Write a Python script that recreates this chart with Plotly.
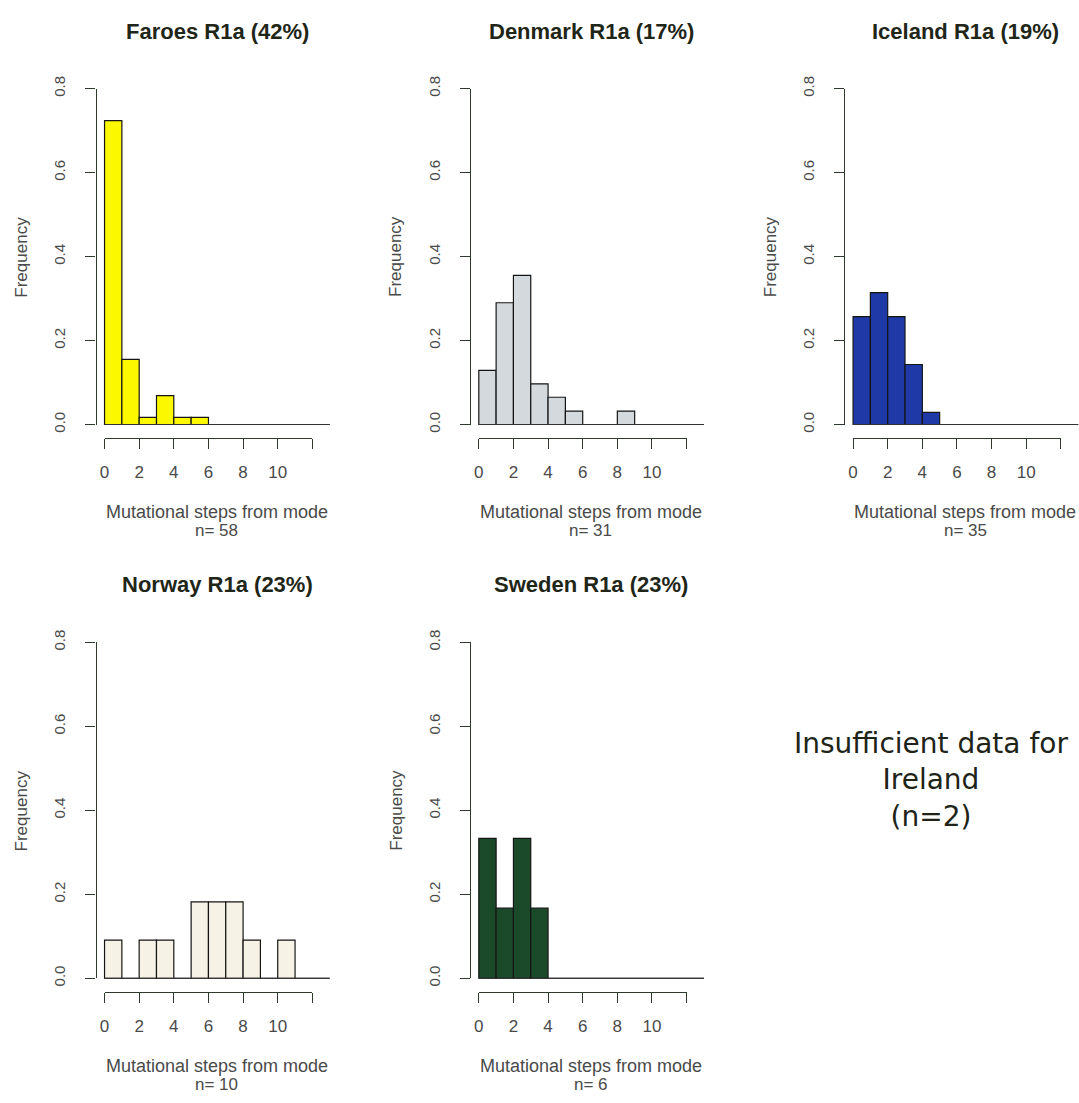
import plotly.graph_objects as go

# Bin edges (mutational steps from mode), one-step bins from 0 to 13
bin_edges = list(range(0, 14))

# Relative frequency per bin for each population
faroes_freq = [0.724, 0.155, 0.017, 0.069, 0.017, 0.017, 0, 0, 0, 0, 0, 0, 0]
denmark_freq = [0.129, 0.290, 0.355, 0.097, 0.065, 0.032, 0, 0, 0.032, 0, 0, 0, 0]
iceland_freq = [0.257, 0.314, 0.257, 0.143, 0.029, 0, 0, 0, 0, 0, 0, 0, 0]
norway_freq = [0.091, 0, 0.091, 0.091, 0, 0.182, 0.182, 0.182, 0.091, 0, 0.091, 0, 0]
sweden_freq = [0.333, 0.167, 0.333, 0.167, 0, 0, 0, 0, 0, 0, 0, 0, 0]

titles = ["Faroes R1a (42%)", "Denmark R1a (17%)", "Iceland R1a (19%)",
          "Norway R1a (23%)", "Sweden R1a (23%)"]
sample_sizes = [58, 31, 35, 10, 6]
series = [faroes_freq, denmark_freq, iceland_freq, norway_freq, sweden_freq]
fill_colors = ["#fbf800", "#d4d9dd", "#1f3aa6", "#f6f2e6", "#1b4a2b"]

x_ticks = [0, 2, 4, 6, 8, 10, 12]
x_tick_text = ["0", "2", "4", "6", "8", "10", ""]
y_ticks = [0.0, 0.2, 0.4, 0.6, 0.8]
y_tick_text = ["0.0", "0.2", "0.4", "0.6", "0.8"]

ireland_note = "Insufficient data for<br>Ireland<br>(n=2)"

# ---- page layout (pixels) ----
W, H = 1079, 1103
col_x0 = [100, 476, 852]          # pixel where step 0 sits in each column
row_base = [419.5, 984.0]         # pixel where frequency 0 sits in each row
UX = 17.4                         # pixels per step
UY = 428.0                        # pixels per unit of frequency
PAD_X = 0.52                      # 4% extension of the step range
PAD_Y = 0.032                     # 4% extension of the frequency range

AXIS_COL = "#2e3a2e"
TEXT_COL = "#1f2618"
LABEL_COL = "#4a4a4a"
FONT = "Liberation Sans, Arial, sans-serif"


def fx(px):
    return min(max(px / W, 0.0), 1.0)


def fy(py):
    return min(max(1 - py / H, 0.0), 1.0)


fig = go.Figure()
layout = dict(
    width=W, height=H,
    margin=dict(l=0, r=0, t=0, b=0),
    paper_bgcolor="white",
    plot_bgcolor="rgba(0,0,0,0)",
    showlegend=False,
    annotations=[],
)


def key(kind, n):
    return kind if n == 1 else f"{kind}{n}"


def ref(kind, n):
    return kind if n == 1 else f"{kind}{n}"


for i, (freq, title, n_obs, color) in enumerate(zip(series, titles, sample_sizes, fill_colors)):
    row, col = divmod(i, 3)
    x0 = col_x0[col]
    base = row_base[row]
    a = 2 * i + 1   # axes carrying the bars
    b = 2 * i + 2   # detached axes with ticks and labels

    # plot region for the bars
    left_px = x0 - PAD_X * UX
    right_px = min(x0 + (bin_edges[-1] + PAD_X) * UX, W)
    top_px = base - (0.8 + PAD_Y) * UY
    bot_px = base + PAD_Y * UY

    layout[key("xaxis", a)] = dict(
        domain=[fx(left_px), fx(right_px)],
        range=[(left_px - x0) / UX, (right_px - x0) / UX],
        anchor=ref("y", a), visible=False, fixedrange=True,
    )
    layout[key("yaxis", a)] = dict(
        domain=[fy(bot_px), fy(top_px)],
        range=[-PAD_Y, 0.8 + PAD_Y],
        anchor=ref("x", a), visible=False, fixedrange=True,
    )

    centers = [(bin_edges[k] + bin_edges[k + 1]) / 2 for k in range(len(freq))]
    fig.add_trace(go.Scatter(
        x=[bin_edges[0], bin_edges[-1]], y=[0, 0], mode="lines",
        line=dict(color="#333333", width=1),
        xaxis=ref("x", a), yaxis=ref("y", a), hoverinfo="skip",
    ))
    fig.add_trace(go.Bar(
        x=centers, y=freq, width=1,
        marker=dict(color=color, line=dict(color="#151515", width=1.2)),
        xaxis=ref("x", a), yaxis=ref("y", a),
    ))

    # detached R-style axes
    layout[key("xaxis", b)] = dict(
        domain=[fx(x0), fx(x0 + x_ticks[-1] * UX)],
        range=[x_ticks[0], x_ticks[-1]],
        anchor="free", position=fy(bot_px),
        showline=True, linecolor=AXIS_COL, linewidth=1.2,
        ticks="outside", ticklen=10, tickwidth=1.2, tickcolor=AXIS_COL,
        tickvals=x_ticks, ticktext=x_tick_text,
        tickfont=dict(family=FONT, size=17, color=LABEL_COL),
        ticklabelstandoff=9,
        showgrid=False, zeroline=False, fixedrange=True,
    )
    layout[key("yaxis", b)] = dict(
        domain=[fy(base), fy(base - 0.8 * UY)],
        range=[0, 0.8],
        anchor="free", position=fx(left_px), side="left",
        showline=True, linecolor=AXIS_COL, linewidth=1.2,
        ticks="outside", ticklen=10, tickwidth=1.2, tickcolor=AXIS_COL,
        tickvals=y_ticks, ticktext=y_tick_text, tickangle=-90,
        tickfont=dict(family=FONT, size=15, color=LABEL_COL),
        ticklabelstandoff=14,
        showgrid=False, zeroline=False, fixedrange=True,
    )
    fig.add_trace(go.Scatter(
        x=[None], y=[None], mode="markers",
        xaxis=ref("x", b), yaxis=ref("y", b), hoverinfo="skip",
    ))

    cx = (left_px + x0 + (bin_edges[-1] + PAD_X) * UX) / 2
    layout["annotations"] += [
        dict(text=f"<b>{title}</b>", x=fx(cx), y=fy(base - 401), xref="paper", yref="paper",
             showarrow=False, xanchor="center", yanchor="middle",
             font=dict(family=FONT, size=22, color=TEXT_COL)),
        dict(text="Frequency", x=fx(x0 - 83), y=fy(base - 171), xref="paper", yref="paper",
             showarrow=False, textangle=-90, xanchor="center", yanchor="middle",
             font=dict(family=FONT, size=17, color=LABEL_COL)),
        dict(text="Mutational steps from mode", x=fx(x0 + 112.5), y=fy(base + 89),
             xref="paper", yref="paper", showarrow=False, xanchor="center", yanchor="middle",
             font=dict(family=FONT, size=18, color=LABEL_COL)),
        dict(text=f"n= {n_obs}", x=fx(x0 + 112.5), y=fy(base + 108),
             xref="paper", yref="paper", showarrow=False, xanchor="center", yanchor="middle",
             font=dict(family=FONT, size=17, color=LABEL_COL)),
    ]

layout["annotations"].append(dict(
    text=ireland_note, x=fx(930), y=fy(782), xref="paper", yref="paper",
    showarrow=False, xanchor="center", yanchor="middle", align="center",
    font=dict(family="DejaVu Sans, sans-serif", size=28, color="#202418"),
))

fig.update_layout(**layout)
fig.write_html("out.html")
